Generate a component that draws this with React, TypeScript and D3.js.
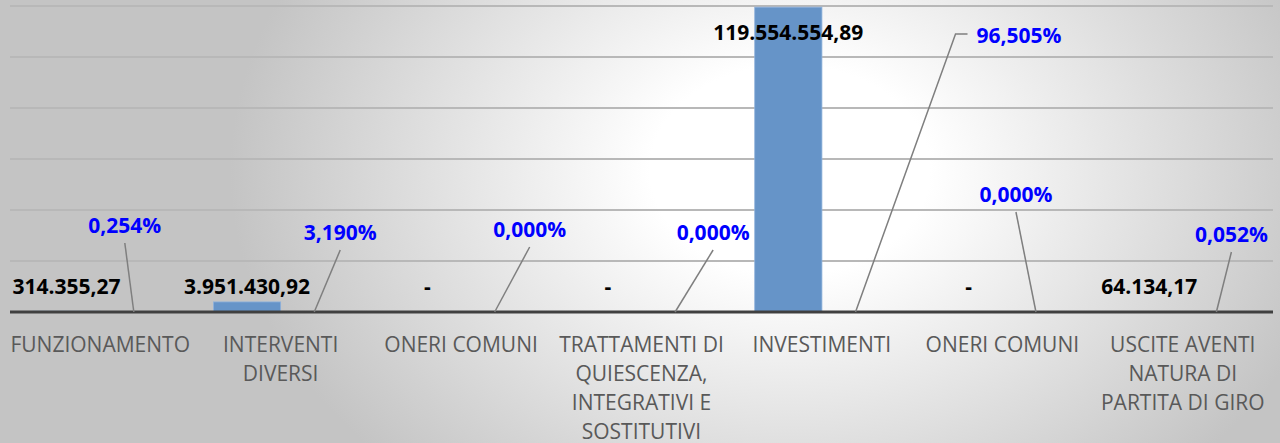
import React from "react";
import * as d3 from "d3";

const categoryLines: string[][] = [
  ["FUNZIONAMENTO"],
  ["INTERVENTI", "DIVERSI"],
  ["ONERI COMUNI"],
  ["TRATTAMENTI DI", "QUIESCENZA,", "INTEGRATIVI E", "SOSTITUTIVI"],
  ["INVESTIMENTI"],
  ["ONERI COMUNI"],
  ["USCITE AVENTI", "NATURA DI", "PARTITA DI GIRO"],
];
const amounts: number[] = [314355.27, 3951430.92, 0, 0, 119554554.89, 0, 64134.17];
const percents: number[] = [0.254, 3.19, 0, 0, 96.505, 0, 0.052];
const yTicks: number[] = [0, 20e6, 40e6, 60e6, 80e6, 100e6, 120e6];

// layout: percent label offsets relative to the (zero-height) percent bar anchor [dx, dy above baseline]
const pctLabelOffsets: [number, number][] = [
  [-9, 86], [26, 79], [35, 82], [38, 79], [121, 276], [-20, 117], [15, 77],
];

const W = 1280;
const H = 443;
const left = 10;
const right = 1273;
const top = 6;
const base = 312;

const it = d3.formatLocale({ decimal: ",", thousands: ".", grouping: [3], currency: ["€", ""] });
const fmtAmount = (v: number) => (v === 0 ? "-" : it.format(",.2f")(v));
const fmtPct = (v: number) => it.format(".3f")(v) + "%";

export default function App() {
  const idx = categoryLines.map((_, i) => i);
  const x = d3.scaleBand<number>().domain(idx).range([left, right]).paddingInner(0.255).paddingOuter(0.1275);
  const x1 = d3.scaleBand<number>().domain([0, 1]).range([0, x.bandwidth()]);
  const y = d3.scaleLinear().domain([0, 120e6]).range([base, top]);
  const font = "'Open Sans', 'Noto Sans', sans-serif";

  return (
    <div style={{ position: "absolute", left: 0, top: 0 }}>
      <svg width={W} height={H} style={{ display: "block" }}>
        <defs>
          <radialGradient id="bg" gradientUnits="userSpaceOnUse" cx={0} cy={0} r={1}
            gradientTransform="translate(790,170) scale(560,420)">
            <stop offset="0" stopColor="#ffffff" />
            <stop offset="0.25" stopColor="#ffffff" />
            <stop offset="1" stopColor="#c4c4c4" />
          </radialGradient>
        </defs>
        <rect x={0} y={0} width={W} height={H} fill="url(#bg)" />
        {yTicks.slice(1).map((t) => (
          <line key={t} x1={left} x2={right} y1={y(t)} y2={y(t)} stroke="#b8b8b8" strokeWidth={2} />
        ))}
        {amounts.map((v, i) => (
          <rect key={"b" + i} x={(x(i) as number) + (x1(0) as number)} y={y(v)} width={x1.bandwidth()}
            height={base - y(v)} fill="#6694c8" stroke="#8fb2dc" strokeWidth={0.8} />
        ))}
        <line x1={left} x2={right} y1={base} y2={base} stroke="#404040" strokeWidth={3} />
        {amounts.map((v, i) => {
          const cx = (x(i) as number) + (x1(0) as number) + x1.bandwidth() / 2;
          const big = base - y(v) > 60;
          const ty = big ? y(v) + 33 : base - 18;
          return (
            <text key={"v" + i} x={cx} y={ty} textAnchor="middle" fontFamily={font} fontWeight="bold"
              fontSize={21} fill="#000">{fmtAmount(v)}</text>
          );
        })}
        {percents.map((p, i) => {
          const ax = (x(i) as number) + (x1(1) as number) + x1.bandwidth() / 2;
          const [dx, dy] = pctLabelOffsets[i];
          const ly = base - dy;
          if (dx > 80) {
            const lx = ax + dx;
            return (
              <g key={"p" + i}>
                <polyline points={`${ax},${base} ${lx - 21},${ly - 2} ${lx - 9},${ly - 2}`} fill="none"
                  stroke="#7f7f7f" strokeWidth={1.5} />
                <text x={lx} y={ly + 7} textAnchor="start" fontFamily={font} fontWeight="bold" fontSize={21}
                  fill="#0000ff">{fmtPct(p)}</text>
              </g>
            );
          }
          const lx = ax + dx;
          return (
            <g key={"p" + i}>
              <line x1={ax} y1={base} x2={lx} y2={ly + 17} stroke="#7f7f7f" strokeWidth={1.5} />
              <text x={lx} y={ly + 7} textAnchor="middle" fontFamily={font} fontWeight="bold" fontSize={21}
                fill="#0000ff">{fmtPct(p)}</text>
            </g>
          );
        })}
        {categoryLines.map((lines, i) => (
          <text key={"c" + i} x={(x(i) as number) + x.bandwidth() / 2} y={352} textAnchor="middle"
            fontFamily={font} fontSize={21} fill="#595959">
            {lines.map((l, j) => (
              <tspan key={j} x={(x(i) as number) + x.bandwidth() / 2} dy={j === 0 ? 0 : 29}>{l}</tspan>
            ))}
          </text>
        ))}
      </svg>
    </div>
  );
}
